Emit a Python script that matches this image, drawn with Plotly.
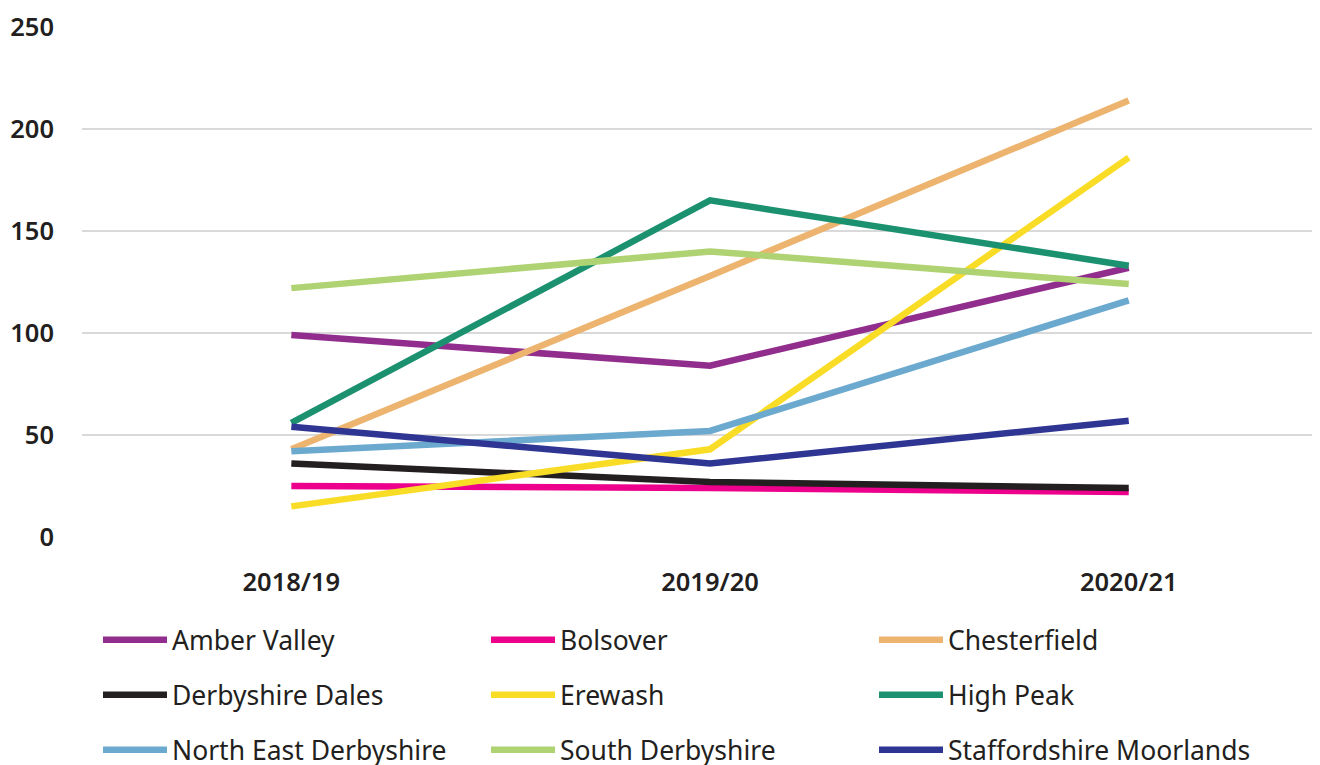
import plotly.graph_objects as go

years = ["2018/19", "2019/20", "2020/21"]
amber_valley = [99, 84, 132]
bolsover = [25, 24, 22]
chesterfield = [43, 128, 214]
derbyshire_dales = [36, 27, 24]
erewash = [15, 43, 186]
high_peak = [56, 165, 133]
north_east_derbyshire = [42, 52, 116]
south_derbyshire = [122, 140, 124]
staffordshire_moorlands = [54, 36, 57]

series = [
    ("Amber Valley", amber_valley, "#912D8C", "legend"),
    ("Bolsover", bolsover, "#EC008C", "legend"),
    ("Chesterfield", chesterfield, "#EDB46F", "legend"),
    ("Derbyshire Dales", derbyshire_dales, "#231F20", "legend2"),
    ("Erewash", erewash, "#F9DC26", "legend2"),
    ("High Peak", high_peak, "#1C9170", "legend2"),
    ("North East Derbyshire", north_east_derbyshire, "#6BA9CF", "legend3"),
    ("South Derbyshire", south_derbyshire, "#AFD272", "legend3"),
    ("Staffordshire Moorlands", staffordshire_moorlands, "#2E3592", "legend3"),
]

fig = go.Figure()
for name, vals, color, lg in series:
    fig.add_trace(go.Scatter(
        x=[0, 1, 2], y=vals, name=name, mode="lines",
        line=dict(color=color, width=6.5),
        legend=lg,
    ))

font_family = "Noto Sans, Open Sans, sans-serif"
W, H = 1320, 765
OFF = 8  # page body offset
pl, pr, pt, pb = 82 - OFF, 0, 27 - OFF, 765 - (537 - OFF)
ph = H - pt - pb
pw = W - pl - pr

def leg(row_y_px):
    return dict(
        orientation="h",
        x=(98 - OFF - pl) / pw,
        xanchor="left",
        y=(H - pb - (row_y_px - OFF)) / ph,
        yanchor="middle",
        entrywidth=309,
        entrywidthmode="pixels",
        itemwidth=64,
        font=dict(family=font_family, size=26.5, color="#231F20"),
        bgcolor="rgba(0,0,0,0)",
    )

fig.update_layout(
    width=W, height=H,
    margin=dict(l=pl, r=pr, t=pt, b=pb, autoexpand=False),
    paper_bgcolor="white",
    plot_bgcolor="white",
    showlegend=True,
    legend=leg(640),
    legend2=leg(695),
    legend3=leg(750),
    xaxis=dict(
        range=[-0.5, (W - OFF - 82) / 416 - 0.5 + OFF / 416],
        tickmode="array", tickvals=[0, 1, 2], ticktext=years,
        showgrid=False, zeroline=False, showline=False,
        ticks="", ticklabelstandoff=27,
        tickfont=dict(family=font_family, size=25.5, color="#231F20", weight=600),
    ),
    yaxis=dict(
        range=[0, 250], tickvals=[0, 50, 100, 150, 200, 250],
        showgrid=True, gridcolor="#D9D9D9", gridwidth=2,
        zeroline=False, showline=False, ticks="",
        ticklabelstandoff=27,
        tickfont=dict(family=font_family, size=25.5, color="#231F20", weight=600),
    ),
)

fig.write_html("out.html")
